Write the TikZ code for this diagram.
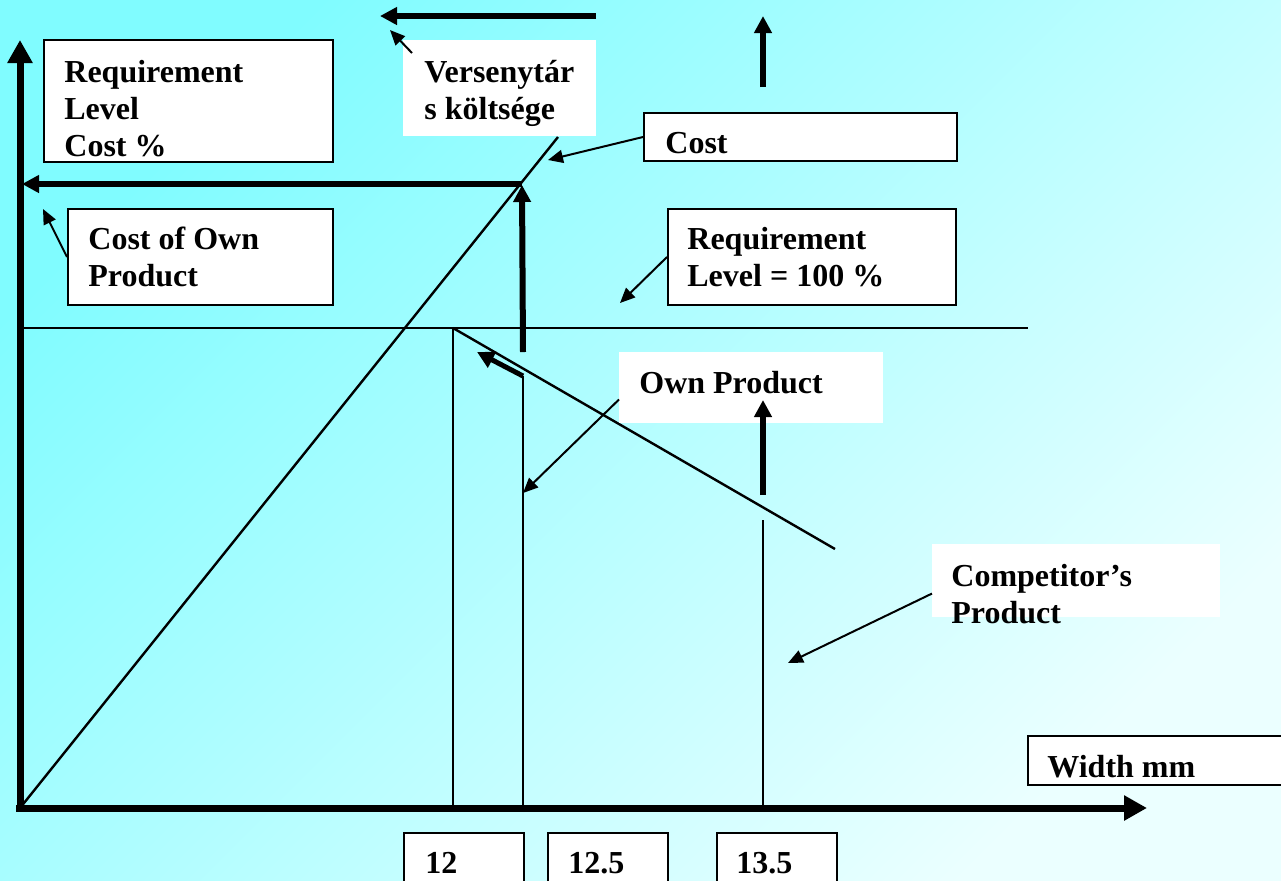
\documentclass[tikz,border=0pt]{standalone}
\usepackage{fontspec}
\setmainfont{Liberation Serif}
\usepackage{tikz}
\usetikzlibrary{arrows.meta}
\definecolor{bgtop}{RGB}{128,252,255}
\definecolor{bgbottom}{RGB}{235,255,255}
\tikzstyle{axis} = [line width=3.5pt,-{Triangle[length=11.5pt,width=12pt]}]
\tikzstyle{bigarrow} = [line width=3pt,-{Triangle[length=8.5pt,width=8.5pt]}]
\tikzstyle{arrow} = [line width=1pt,-{Triangle[length=7.5pt,width=6.5pt]}]
\tikzstyle{curve} = [line width=1.2pt]
\tikzstyle{box} = [draw,line width=1pt,fill=white,inner sep=0pt,anchor=north west]
\tikzstyle{plain} = [fill=white,inner sep=0pt,anchor=north west]
\tikzstyle{lbl} = [font=\fontsize{16}{18.5}\selectfont\bfseries,align=left,inner sep=0pt,anchor=north west]

\begin{document}
\begin{tikzpicture}[x=0.5pt,y=-0.5pt]
    \useasboundingbox (0,0) rectangle (1281,880);
    \clip (0,0) rectangle (1281,880);
    \shade[top color=bgtop,bottom color=bgbottom,shading angle=45] (0,0) rectangle (1281,880);

    % chart points
    \coordinate (O) at (20,808);
    \coordinate (ytip) at (20,40);
    \coordinate (xtip) at (1147,808);
    \coordinate (ctop) at (558,137);
    \coordinate (C) at (522,184);
    \coordinate (cleft) at (22,184);
    \coordinate (rl) at (20,328);
    \coordinate (rr) at (1028,328);
    \coordinate (p12) at (453,328);
    \coordinate (p12b) at (453,808);
    \coordinate (p125) at (523,376);
    \coordinate (p125b) at (523,808);
    \coordinate (p135) at (763,520);
    \coordinate (p135b) at (763,808);
    \coordinate (cend) at (835,549);

    % lines
    \draw[curve] (O) -- (ctop);
    \draw[curve] (rl) -- (rr);
    \draw[curve] (p12) -- (p12b);
    \draw[curve] (p125) -- (p125b);
    \draw[curve] (p135) -- (p135b);
    \draw[curve] (p12) -- (cend);
    \draw[axis] ([yshift=-1.8pt]O) -- (ytip);
    \draw[axis] ([xshift=-1.8pt]O) -- (xtip);

    % boxes
    \node[box,minimum width=144.5pt,minimum height=61pt] (axislbl) at (43,39) {};
    \node[plain,minimum width=96.5pt,minimum height=48pt] (vers) at (403,40) {};
    \node[box,minimum width=156.5pt,minimum height=24pt] (cost) at (643,112) {};
    \node[box,minimum width=132.5pt,minimum height=48pt] (cown) at (67,208) {};
    \node[box,minimum width=144pt,minimum height=48pt] (req) at (667,208) {};
    \node[plain,minimum width=132pt,minimum height=35.5pt] (own) at (619,352) {};
    \node[plain,minimum width=144pt,minimum height=36.5pt] (comp) at (932,544) {};
    \node[box,minimum width=131.5pt,minimum height=24.5pt] (wbox) at (1027,735) {};
    \node[box,minimum width=60pt,minimum height=31.5pt] (b12) at (403,832) {};
    \node[box,minimum width=60pt,minimum height=31.5pt] (b125) at (547,832) {};
    \node[box,minimum width=60pt,minimum height=31.5pt] (b135) at (716,832) {};

    % texts
    \node[lbl] (axistxt) at (64,56) {\strut Requirement\\\strut Level\\\strut Cost \%};
    \node[lbl] (verstxt) at (424,56) {\strut Versenytár\\\strut s költsége};
    \node[lbl] (costtxt) at (665,127) {\strut Cost};
    \node[lbl] (cowntxt) at (88,223) {\strut Cost of Own\\\strut Product};
    \node[lbl] (reqtxt) at (687,223) {\strut Requirement\\\strut Level = 100 \%};
    \node[lbl] (owntxt) at (639,367) {\strut Own Product};
    \node[lbl] (comptxt) at (951,560) {\strut Competitor’s\\\strut Product};
    \node[lbl] (wtxt) at (1047,751) {\strut Width mm};
    \node[lbl] (t12) at (425,847) {\strut 12};
    \node[lbl] (t125) at (568,847) {\strut 12.5};
    \node[lbl] (t135) at (736,847) {\strut 13.5};

    % thick arrows
    \coordinate (tl1) at (596,16);
    \coordinate (tl2) at (380,16);
    \coordinate (tr1) at (763,87);
    \coordinate (tr2) at (763,16);
    \coordinate (cv) at (523,352);
    \coordinate (o1) at (763,495);
    \coordinate (o2) at (763,400);
    \coordinate (ctip) at (477,352);
    \draw[bigarrow] (tl1) -- (tl2);
    \draw[bigarrow] (tr1) -- (tr2);
    \draw[bigarrow] (C) -- (cleft);
    \draw[bigarrow] (cv) -- ([yshift=-0.5pt]C);
    \draw[bigarrow] (o1) -- (o2);
    \draw[bigarrow,line width=2.5pt] (p125) -- (ctip);

    % callouts
    \coordinate (verstip) at (390,30);
    \coordinate (costtip) at (548,160);
    \coordinate (cowntip) at (43,209);
    \coordinate (reqtip) at (620,303);
    \coordinate (owntip) at (523,493);
    \coordinate (comptip) at (788,663);
    \draw[arrow] ([shift={(9,13)}]vers.north west) -- (verstip);
    \draw[arrow] (cost.west) -- (costtip);
    \draw[arrow] (cown.west) -- (cowntip);
    \draw[arrow] (req.west) -- (reqtip);
    \draw[arrow] (own.185) -- (owntip);
    \draw[arrow] (comp.185) -- (comptip);
\end{tikzpicture}
\end{document}
